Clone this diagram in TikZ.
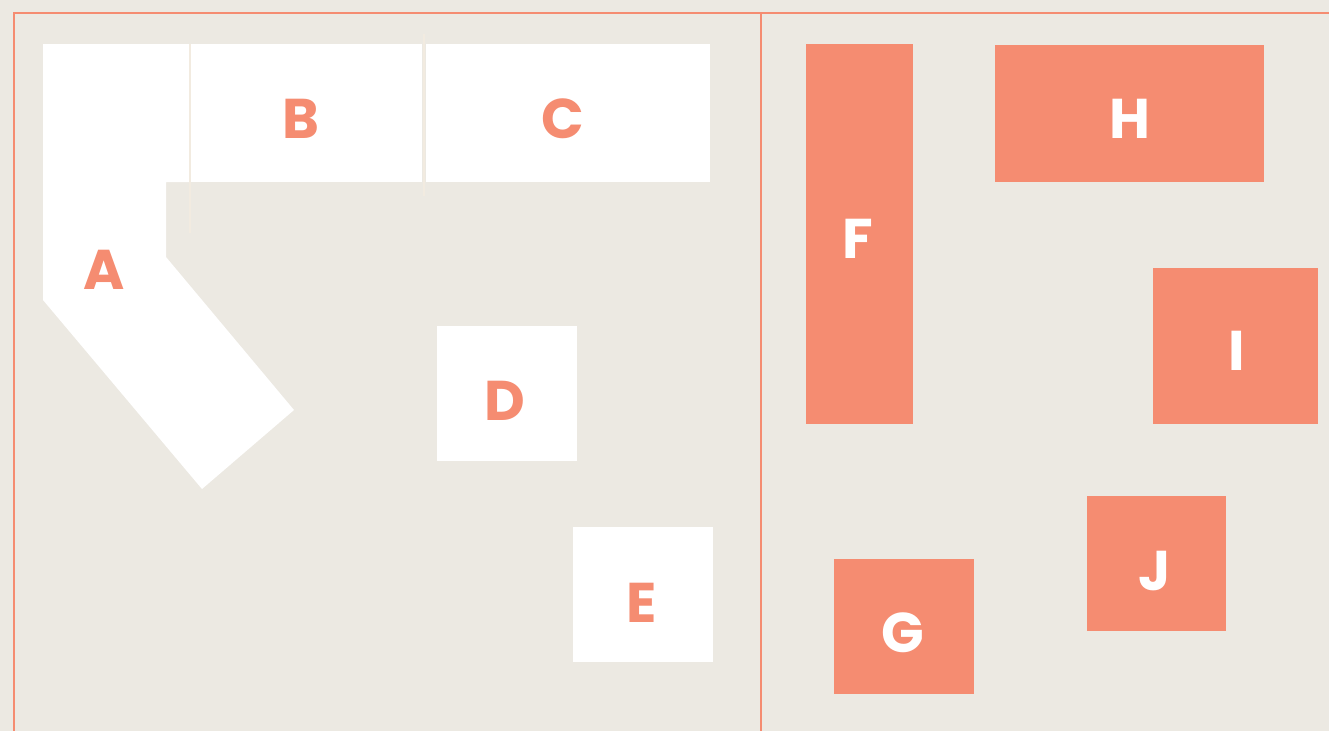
\documentclass[tikz,border=0pt]{standalone}
\usepackage{fontspec}
\setmainfont{Poppins}
\definecolor{bgc}{HTML}{ECE9E2}
\definecolor{salmon}{HTML}{F58C71}
\definecolor{sepc}{HTML}{F2EBE0}
\begin{document}
\begin{tikzpicture}[x=1pt,y=-1pt,
  lbl/.style={font=\fontsize{56}{56}\selectfont\bfseries,inner sep=0pt},
  wl/.style={lbl,text=salmon},
  sl/.style={lbl,text=white},
  wbox/.style={fill=white,inner sep=0pt,anchor=north west},
  sbox/.style={fill=salmon,inner sep=0pt,anchor=north west},
  frame/.style={draw=salmon,line width=1.6pt},
  sep/.style={draw=sepc,line width=2.5pt}]
\fill[bgc] (0,0) rectangle (1329,731);
\useasboundingbox (0,0) rectangle (1329,731);
% frame lines
\coordinate (tl) at (14,13);
\coordinate (tr) at (1329,13);
\coordinate (bl) at (14,731);
\coordinate (dt) at (761,13);
\coordinate (db) at (761,731);
\draw[frame] (tr) -- (tl) -- (bl);
\draw[frame] (dt) -- (db);
% A polygon
\fill[white] (43,44) -- (189,44) -- (189,182) -- (166,182) -- (166,257) -- (294,410) -- (202,489) -- (43,300) -- cycle;
\node[wl] (A) at (104,270) {A};
% white boxes
\node[wbox,minimum width=231pt,minimum height=138pt] (B) at (191,44) {};
\node[wbox,minimum width=284pt,minimum height=138pt] (C) at (426,44) {};
\node[wbox,minimum width=140pt,minimum height=135pt] (D) at (437,326) {};
\node[wbox,minimum width=140pt,minimum height=135pt] (E) at (573,527) {};
\node[wl] (Bl) at (301,119) {B};
\node[wl] (Cl) at (563,119) {C};
\node[wl] (Dl) at (505,401) {D};
\node[wl] (El) at (642,603) {E};
% separators
\coordinate (s1t) at (190,44);
\coordinate (s1b) at (190,233);
\coordinate (s2t) at (424,34);
\coordinate (s2b) at (424,196);
\draw[sep] (s1t) -- (s1b);
\draw[sep] (s2t) -- (s2b);
% salmon boxes
\node[sbox,minimum width=107pt,minimum height=380pt] (F) at (806,44) {};
\node[sbox,minimum width=269pt,minimum height=137pt] (H) at (995,45) {};
\node[sbox,minimum width=165pt,minimum height=156pt] (I) at (1153,268) {};
\node[sbox,minimum width=139pt,minimum height=135pt] (J) at (1087,496) {};
\node[sbox,minimum width=140pt,minimum height=135pt] (G) at (834,559) {};
\node[sl] (Fl) at (858,239) {F};
\node[sl] (Hl) at (1130,119) {H};
\node[sl] (Il) at (1237,351) {I};
\node[sl] (Jl) at (1155,571) {J};
\node[sl] (Gl) at (903,633) {G};
\end{tikzpicture}
\end{document}
